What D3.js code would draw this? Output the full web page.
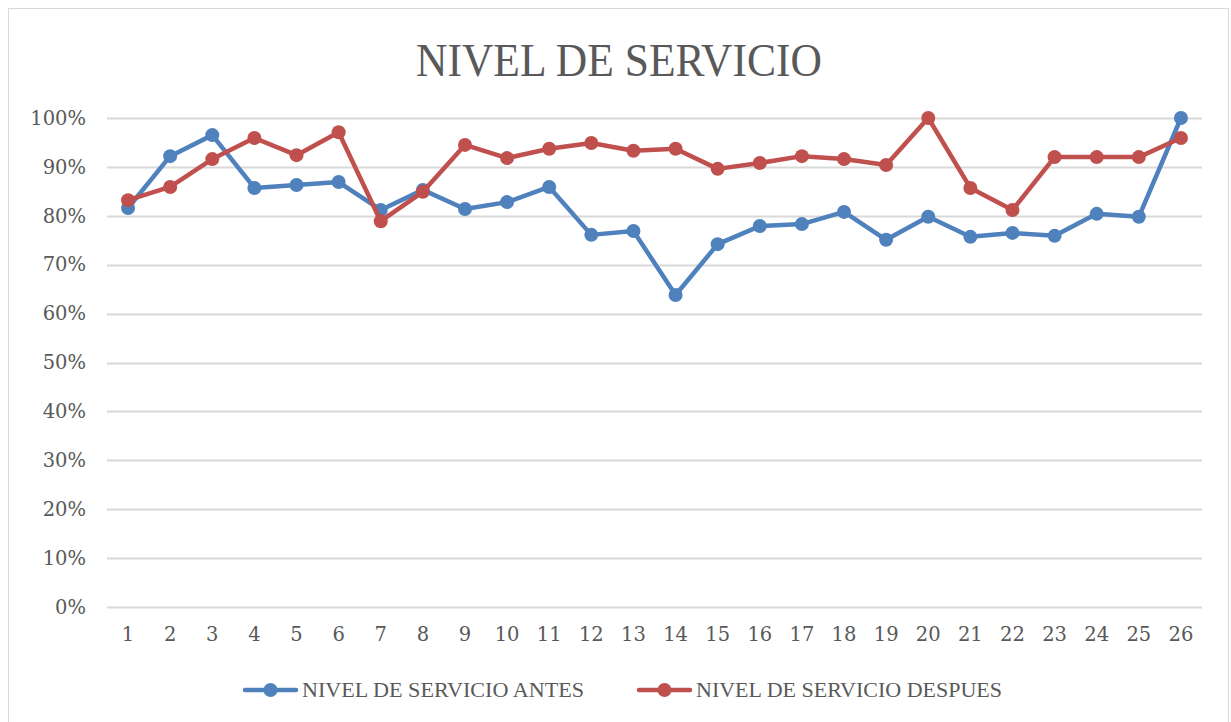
<!DOCTYPE html>
<html>
<head>
<meta charset="utf-8">
<script src="https://cdn.jsdelivr.net/npm/d3@7"></script>
<style>
  body { margin: 0; background: #fff; }
  text { font-family: "Liberation Serif", "DejaVu Serif", serif; fill: #595959; }
  .tick text { font-family: "DejaVu Serif", serif; }
</style>
</head>
<body>
<div id="chart"></div>
<script>
// data
const categories = d3.range(1, 27).map(String);
const antes = [0.816, 0.922, 0.965, 0.857, 0.863, 0.869, 0.812, 0.853, 0.814, 0.828,
               0.859, 0.761, 0.769, 0.638, 0.742, 0.779, 0.783, 0.808, 0.751, 0.798,
               0.757, 0.765, 0.759, 0.804, 0.798, 1.000];
const despues = [0.832, 0.859, 0.916, 0.959, 0.924, 0.971, 0.789, 0.849, 0.945, 0.918,
                 0.937, 0.949, 0.933, 0.937, 0.896, 0.908, 0.922, 0.916, 0.904, 1.000,
                 0.857, 0.812, 0.920, 0.920, 0.920, 0.959];
const yTicks = d3.range(0, 1.01, 0.1);
const seriesNames = ["NIVEL DE SERVICIO ANTES", "NIVEL DE SERVICIO DESPUES"];
const colors = ["#4f81bd", "#c0504d"];

const W = 1231, H = 722;
const margin = {top: 118, right: 29, bottom: 115, left: 107};

var svg = d3.select("#chart")
    .append("svg")
    .attr("width", W)
    .attr("height", H);

// chart frame
svg.append("rect")
    .attr("x", 8.5).attr("y", 8.5)
    .attr("width", 1220).attr("height", 730)
    .attr("fill", "none")
    .attr("stroke", "#d9d9d9");

var x = d3.scaleBand()
    .domain(categories)
    .range([margin.left, W - margin.right]);

var y = d3.scaleLinear()
    .domain([0, 1])
    .range([H - margin.bottom, margin.top]);

// gridlines
svg.append("g")
    .selectAll("line")
    .data(yTicks)
    .enter().append("line")
    .attr("x1", margin.left)
    .attr("x2", W - margin.right)
    .attr("y1", d => Math.round(y(d)) + 0.5)
    .attr("y2", d => Math.round(y(d)) + 0.5)
    .attr("stroke", "#d9d9d9")
    .attr("stroke-width", 2);

// y axis labels
var yAxis = svg.append("g")
    .attr("transform", "translate(" + margin.left + ",0)")
    .call(d3.axisLeft(y).tickValues(yTicks).tickFormat(d3.format(".0%")).tickSize(0).tickPadding(21));
yAxis.select(".domain").remove();
yAxis.selectAll("text")
    .attr("font-size", 19.5)
    .attr("font-family", null)
    .attr("fill", "#595959");

// x axis labels
var xAxis = svg.append("g")
    .attr("transform", "translate(0," + (H - margin.bottom) + ")")
    .call(d3.axisBottom(x).tickSize(0).tickPadding(20));
xAxis.select(".domain").remove();
xAxis.selectAll("text")
    .attr("font-size", 19.5)
    .attr("font-family", null)
    .attr("fill", "#595959");

// title
svg.append("text")
    .attr("x", 619)
    .attr("y", 76)
    .attr("text-anchor", "middle")
    .attr("font-size", 47)
    .attr("textLength", 406)
    .attr("lengthAdjust", "spacingAndGlyphs")
    .text("NIVEL DE SERVICIO");

var line = d3.line()
    .x((d, i) => x(categories[i]) + x.bandwidth() / 2)
    .y(d => y(d));

[antes, despues].forEach(function(values, k) {
    var g = svg.append("g");
    g.append("path")
        .datum(values)
        .attr("d", line)
        .attr("fill", "none")
        .attr("stroke", colors[k])
        .attr("stroke-width", 4.5)
        .attr("stroke-linejoin", "round")
        .attr("stroke-linecap", "round");
    g.selectAll("circle")
        .data(values)
        .enter().append("circle")
        .attr("cx", (d, i) => x(categories[i]) + x.bandwidth() / 2)
        .attr("cy", d => y(d))
        .attr("r", 7)
        .attr("fill", colors[k]);
});

// legend
var legendX = [243, 637];
var legendW = [282, 306];
var legend = svg.append("g");
seriesNames.forEach(function(name, k) {
    var lg = legend.append("g").attr("transform", "translate(" + legendX[k] + ",690)");
    lg.append("line")
        .attr("x1", 2).attr("x2", 53)
        .attr("stroke", colors[k])
        .attr("stroke-width", 4.5)
        .attr("stroke-linecap", "round");
    lg.append("circle")
        .attr("cx", 27.5).attr("r", 7)
        .attr("fill", colors[k]);
    lg.append("text")
        .attr("x", 59)
        .attr("y", 7)
        .attr("font-size", 20)
        .attr("textLength", legendW[k])
        .attr("lengthAdjust", "spacingAndGlyphs")
        .text(name);
});
</script>
</body>
</html>
